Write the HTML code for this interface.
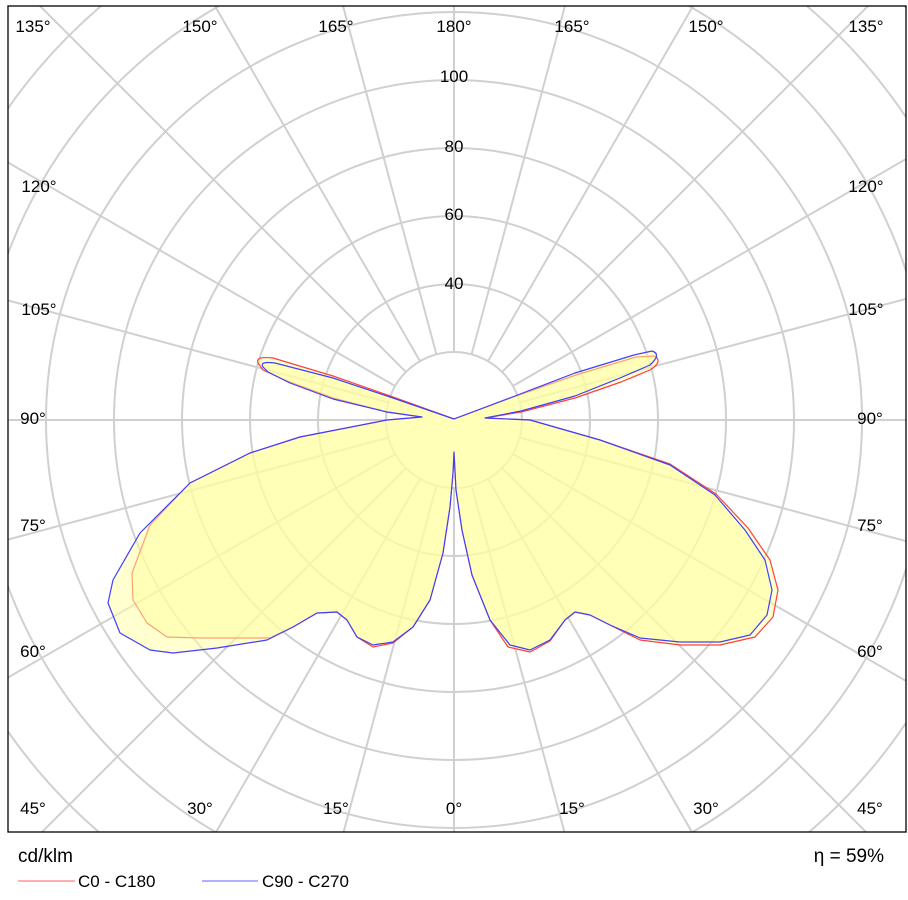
<!DOCTYPE html>
<html><head><meta charset="utf-8"><style>
html,body{margin:0;padding:0;background:#fff;width:908px;height:900px;overflow:hidden;font-family:"Liberation Sans",Arial,sans-serif}
svg{display:block}
</style></head><body>
<svg width="908" height="900" viewBox="0 0 908 900" xmlns="http://www.w3.org/2000/svg">
<defs><clipPath id="c"><rect x="8" y="6" width="898" height="826"/></clipPath></defs>
<g clip-path="url(#c)" stroke="#d0d0d0" stroke-width="2" fill="none">
<circle cx="454" cy="420" r="68"/><circle cx="454" cy="420" r="136"/><circle cx="454" cy="420" r="204"/>
<circle cx="454" cy="420" r="272"/><circle cx="454" cy="420" r="340"/><circle cx="454" cy="420" r="408"/>
<circle cx="454" cy="420" r="476"/><circle cx="454" cy="420" r="544"/><circle cx="454" cy="420" r="612"/>
<path d="M454,488L454,1120M471.6,485.7L635.2,1096.1M488,478.9L804,1026.2M502.1,468.1L949,915M512.9,454L1060.2,770M519.7,437.6L1130.1,601.2M522,420L1154,420M519.7,402.4L1130.1,238.8M512.9,386L1060.2,70M502.1,371.9L949,-75M488,361.1L804,-186.2M471.6,354.3L635.2,-256.1M454,352L454,-280
M436.4,485.7L272.8,1096.1M420,478.9L104,1026.2M405.9,468.1L-41,915M395.1,454L-152.2,770M388.3,437.6L-222.1,601.2M386,420L-246,420M388.3,402.4L-222.1,238.8M395.1,386L-152.2,70M405.9,371.9L-41,-75M420,361.1L104,-186.2M436.4,354.3L272.8,-256.1"/>
</g>
<g clip-path="url(#c)">
<path fill="rgba(255,255,160,0.5)" stroke="#ff4040" stroke-width="1.2" stroke-linejoin="round" d="M454,419 L393,397 L333,376 L273,358 Q255,356 258,363 L263,370 L287,381 L333,398 L387,412 L422,417 L387,420 L300,437 L250,453 L190,483 L150,525 L132,573 L133,600 L147,623 L167,637 L200,638 L240,638 L270,638 L293,627 L317,613 L337,612 L347,620 L357,637 L373,647 L393,643 L413,627 L430,600 L443,553 L450,507 L453,473 L454,452 L456,490 L462,530 L472,575 L490,620 L508,647 L530,652 L550,641 L565,620 L575,612 L590,615 L610,625 L640,640 L680,645 L720,645 L755,637 L773,617 L778,590 L770,560 L748,528 L716,494 L670,464 L600,440 L530,420 L485,418 L521,412 L575,398 L621,382 L650,370 Q663,362 655,356 L636,357 L576,375 L516,396 Z"/>
<path fill="rgba(255,255,160,0.5)" stroke="#4040ff" stroke-width="1.2" stroke-linejoin="round" d="M454,419 L393,398 L333,378 L275,363 Q259,361 263,367 L268,372 L290,383 L333,399 L387,412 L422,417 L387,420 L300,437 L250,453 L190,483 L140,533 L113,580 L108,603 L120,633 L150,650 L173,653 L217,648 L267,640 L293,627 L317,613 L337,612 L347,620 L357,637 L373,645 L393,642 L413,627 L430,600 L443,553 L450,507 L453,473 L454,452 L456,490 L462,530 L472,575 L490,620 L510,645 L530,650 L550,640 L565,620 L575,612 L590,615 L610,625 L640,638 L680,642 L720,642 L750,635 L767,615 L772,590 L765,560 L745,530 L715,495 L670,465 L600,440 L530,420 L485,418 L521,411 L575,396 L620,378 L650,365 Q662,354 652,351 L634,355 L575,373 L515,396 Z"/>
</g>
<rect x="8" y="6" width="898" height="826" fill="none" stroke="#000" stroke-width="1.3"/>
<g font-size="17" fill="#000" text-anchor="middle">
<text x="454" y="82">100</text><text x="454" y="152">80</text><text x="454" y="220">60</text><text x="454" y="289">40</text>
<text x="33" y="32">135°</text><text x="200" y="32">150°</text><text x="336" y="32">165°</text><text x="454" y="32">180°</text><text x="572" y="32">165°</text><text x="706" y="32">150°</text><text x="866" y="32">135°</text>
<text x="39" y="192">120°</text><text x="866" y="192">120°</text>
<text x="39" y="315">105°</text><text x="866" y="315">105°</text>
<text x="33" y="424">90°</text><text x="870" y="424">90°</text>
<text x="33" y="531">75°</text><text x="870" y="531">75°</text>
<text x="33" y="657">60°</text><text x="870" y="657">60°</text>
<text x="33" y="814">45°</text><text x="200" y="814">30°</text><text x="336" y="814">15°</text><text x="454" y="814">0°</text><text x="572" y="814">15°</text><text x="706" y="814">30°</text><text x="870" y="814">45°</text>
</g>
<text x="18" y="862" font-size="19">cd/klm</text>
<text x="884" y="862" font-size="19" text-anchor="end">η = 59%</text>
<line x1="18" y1="881" x2="75" y2="881" stroke="#ff6060" stroke-width="1"/>
<text x="78" y="887" font-size="17">C0 - C180</text>
<line x1="202" y1="881" x2="258" y2="881" stroke="#6060ff" stroke-width="1"/>
<text x="262" y="887" font-size="17">C90 - C270</text>
</svg>
</body></html>
